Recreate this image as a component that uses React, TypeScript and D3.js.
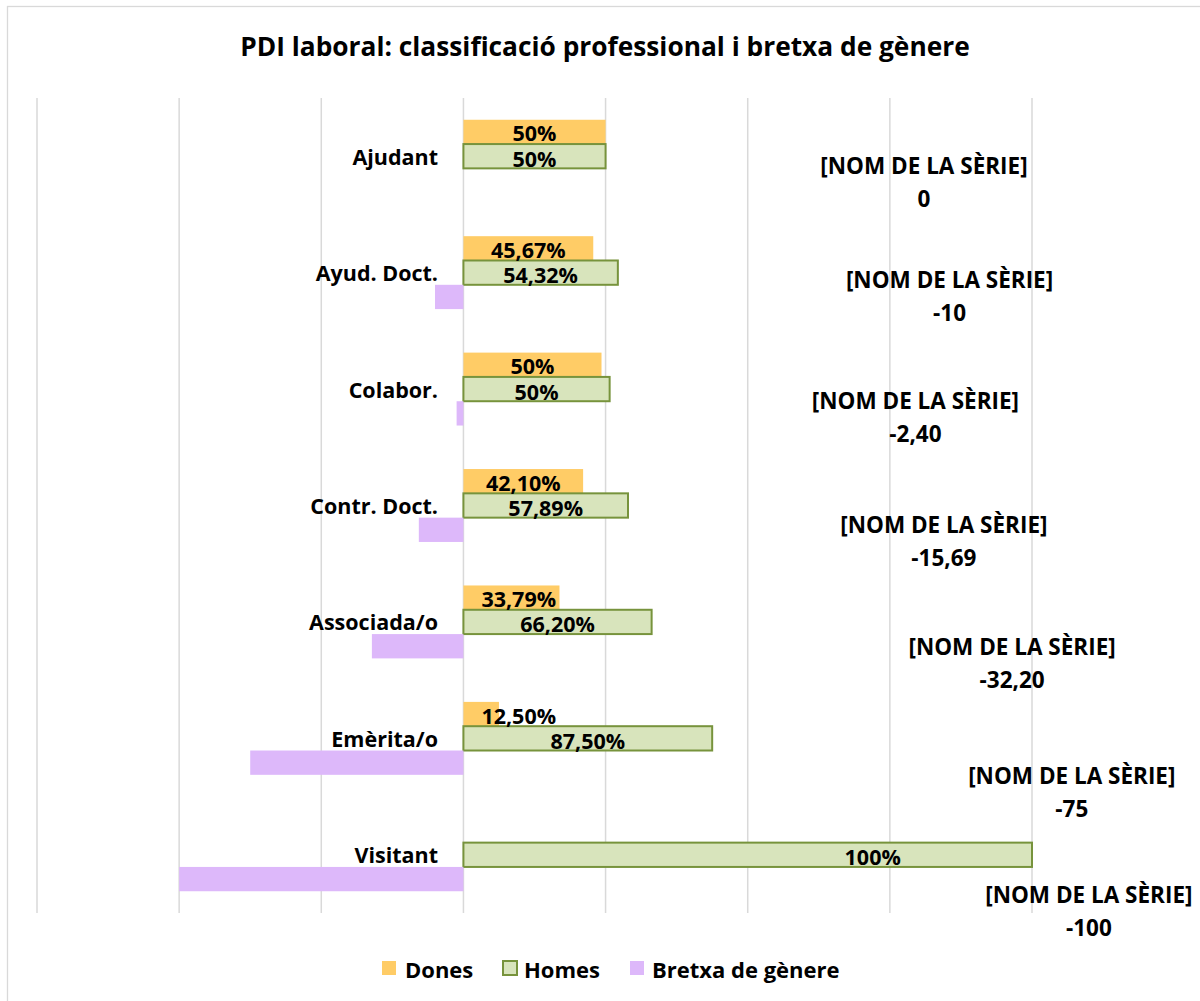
import React from "react";
import * as d3 from "d3";

const categories = ["Ajudant", "Ayud. Doct.", "Colabor.", "Contr. Doct.", "Associada/o", "Emèrita/o", "Visitant"];
const donesValues = [50, 45.67, 48.57, 42.1, 33.79, 12.5, 0];
const donesLabels = ["50%", "45,67%", "50%", "42,10%", "33,79%", "12,50%", ""];
const homesValues = [50, 54.32, 51.43, 57.89, 66.2, 87.5, 200];
const homesLabels = ["50%", "54,32%", "50%", "57,89%", "66,20%", "87,50%", "100%"];
const gapValues = [0, -10, -2.4, -15.69, -32.2, -75, -100];
const gapLabels = ["0", "-10", "-2,40", "-15,69", "-32,20", "-75", "-100"];
const seriesNames = ["Dones", "Homes", "Bretxa de gènere"];
const xTicks = [-150, -100, -50, 0, 50, 100, 150, 200];

// layout-only constants (label anchors in axis units, label shifts in px)
const gapLabelAnchor = [162, 171, 159, 169, 193, 214, 220];
const gapLabelDy = [1, -1, 3, 11, 16, 29, 31];
const homesLabelShift = [0, 0, 0, 0, 0, 0, 125];

const W = 1200;
const H = 1001;
const FONT = "'Open Sans', Lato, sans-serif";
const C_DONES = "#FFCC66";
const C_HOMES = "#D8E4BC";
const C_HOMES_STROKE = "#77933C";
const C_GAP = "#DDB8FA";
const FS_CAT = 21.5;
const FS_NUM = 21.5;
const FS_GAP = 22.5;
const FS_LEG = 22;

export default function App() {
  const x = d3.scaleLinear().domain([-150, 200]).range([37, 1032]);
  const y0 = d3.scaleBand<string>().domain(categories).range([98, 913]);
  const y1 = d3.scaleBand<string>().domain(["d", "h", "g"]).range([0, y0.bandwidth()]).paddingOuter(0.895);
  const bh = y1.bandwidth();
  const x0 = x(0);

  return (
    <svg width={W} height={H} style={{ position: "absolute", left: 0, top: 0, background: "#fff" }} fontFamily={FONT}>
      <rect x={0} y={0} width={W} height={H} fill="#fff" />
      <rect x={7.5} y={6.5} width={W + 20} height={H + 20} fill="none" stroke="#d9d9d9" strokeWidth={1.3} />
      <text x={605} y={56} textAnchor="middle" fontSize={26.3} fontWeight="bold" fill="#000">
        PDI laboral: classificació professional i bretxa de gènere
      </text>
      {xTicks.map((t) => (
        <line key={t} x1={x(t)} x2={x(t)} y1={98} y2={913} stroke="#d9d9d9" strokeWidth={1.5} />
      ))}
      {categories.map((c, i) => {
        const top = y0(c)!;
        const yd = top + y1("d")!;
        const yh = top + y1("h")!;
        const yg = top + y1("g")!;
        const dw = x(donesValues[i]) - x0;
        const hw = x(homesValues[i]) - x0;
        const gx = x(gapValues[i]);
        const dLabelW = donesLabels[i].length * 13.1;
        const dCx = Math.max(x0 + dw / 2, x0 + 16 + dLabelW / 2);
        const gy = yg + bh / 2 + gapLabelDy[i];
        return (
          <g key={c}>
            {dw > 0 && <rect x={x0} y={yd} width={dw} height={bh} fill={C_DONES} />}
            <rect x={x0} y={yh} width={hw} height={bh} fill={C_HOMES} stroke={C_HOMES_STROKE} strokeWidth={2} />
            {gapValues[i] < 0 && <rect x={gx} y={yg} width={x0 - gx} height={bh} fill={C_GAP} />}
            <text x={438} y={yh + bh / 2} textAnchor="end" dominantBaseline="central" fontSize={FS_CAT} fontWeight="bold" fill="#000">
              {c}
            </text>
            {donesLabels[i] && (
              <text x={dCx} y={yd + bh / 2 + 1} textAnchor="middle" dominantBaseline="central" fontSize={FS_NUM} fontWeight="bold" fill="#000">
                {donesLabels[i]}
              </text>
            )}
            <text x={x0 + hw / 2 + homesLabelShift[i]} y={yh + bh / 2 + 2} textAnchor="middle" dominantBaseline="central" fontSize={FS_NUM} fontWeight="bold" fill="#000">
              {homesLabels[i]}
            </text>
            <text x={x(gapLabelAnchor[i])} y={gy - 16} textAnchor="middle" dominantBaseline="central" fontSize={FS_GAP} fontWeight="bold" fill="#000">
              [NOM DE LA SÈRIE]
            </text>
            <text x={x(gapLabelAnchor[i])} y={gy + 17} textAnchor="middle" dominantBaseline="central" fontSize={FS_GAP} fontWeight="bold" fill="#000">
              {gapLabels[i]}
            </text>
          </g>
        );
      })}
      <g>
        {[
          { name: seriesNames[0], sx: 382, tx: 405, fill: C_DONES, stroke: "none" },
          { name: seriesNames[1], sx: 503, tx: 524, fill: C_HOMES, stroke: C_HOMES_STROKE },
          { name: seriesNames[2], sx: 630, tx: 652, fill: C_GAP, stroke: "none" },
        ].map((l) => (
          <g key={l.name}>
            <rect x={l.sx} y={961} width={14} height={14} fill={l.fill} stroke={l.stroke} strokeWidth={l.stroke === "none" ? 0 : 2} />
            <text x={l.tx} y={969} dominantBaseline="central" fontSize={FS_LEG} fontWeight="bold" fill="#000">
              {l.name}
            </text>
          </g>
        ))}
      </g>
    </svg>
  );
}
